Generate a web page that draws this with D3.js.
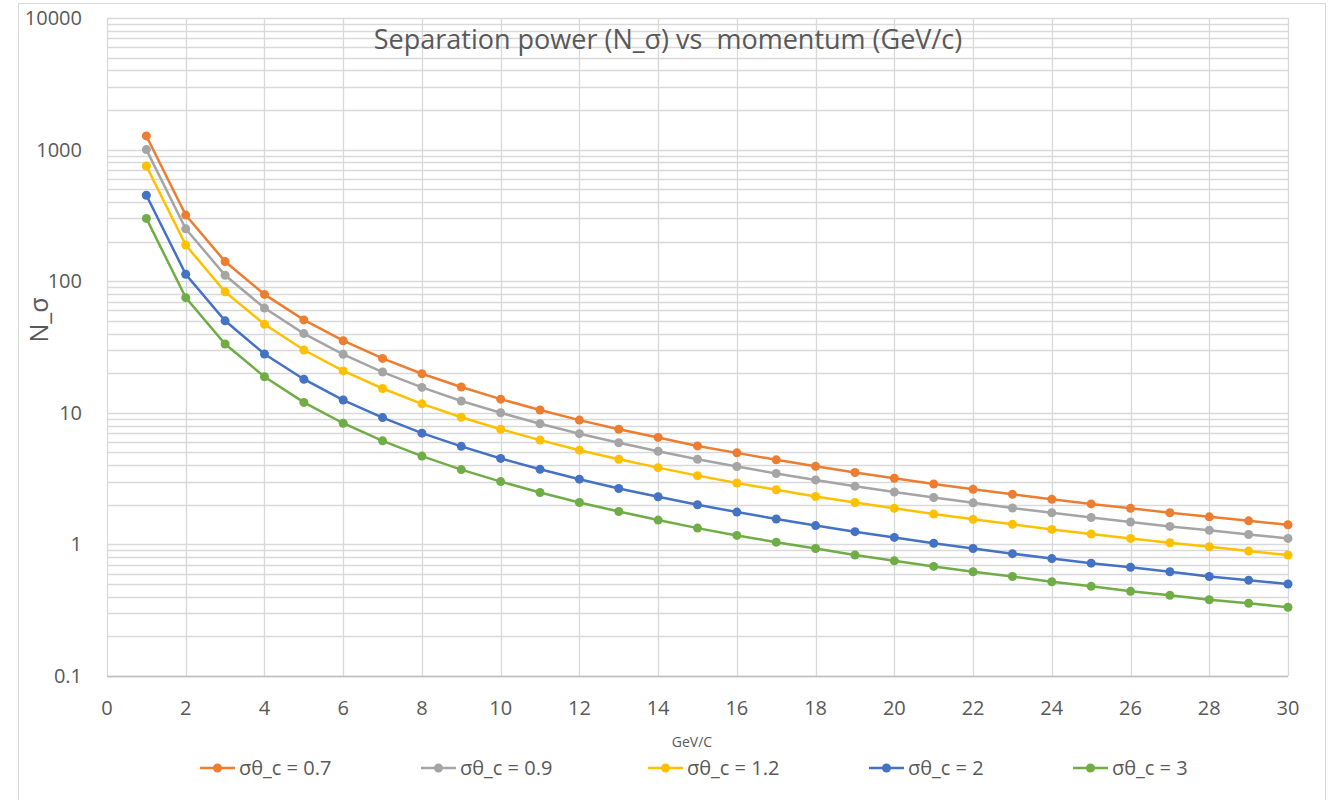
<!DOCTYPE html>
<html>
<head>
<meta charset="utf-8">
<script src="https://cdn.jsdelivr.net/npm/d3@7"></script>
<style>
  body { margin: 0; background: #fff; }
  text { font-family: "Open Sans", "Liberation Sans", sans-serif; fill: #595959; }
</style>
</head>
<body>
<div id="chart"></div>
<script>
// momentum (GeV/c)
const momentum = d3.range(1, 31);

// N_sigma for each sigma theta_c
const sigma07 = [1270, 318, 141, 79.4, 50.8, 35.3, 25.9, 19.8, 15.7, 12.7, 10.5, 8.8, 7.5, 6.5, 5.6, 4.96, 4.39, 3.92, 3.52, 3.18, 2.88, 2.62, 2.4, 2.2, 2.03, 1.88, 1.74, 1.62, 1.51, 1.41];
const sigma09 = [1000, 250, 111, 62.5, 40, 27.8, 20.4, 15.6, 12.3, 10, 8.26, 6.94, 5.92, 5.1, 4.44, 3.91, 3.46, 3.09, 2.77, 2.5, 2.27, 2.07, 1.89, 1.74, 1.6, 1.48, 1.37, 1.28, 1.19, 1.11];
const sigma12 = [750, 188, 83, 47, 30, 20.8, 15.3, 11.7, 9.26, 7.5, 6.2, 5.2, 4.44, 3.83, 3.33, 2.93, 2.6, 2.31, 2.08, 1.88, 1.7, 1.55, 1.42, 1.3, 1.2, 1.11, 1.03, 0.96, 0.89, 0.83];
const sigma2 = [450, 113, 50, 28, 18, 12.5, 9.2, 7.0, 5.56, 4.5, 3.72, 3.13, 2.66, 2.3, 2.0, 1.76, 1.56, 1.39, 1.25, 1.13, 1.02, 0.93, 0.85, 0.78, 0.72, 0.67, 0.62, 0.57, 0.535, 0.5];
const sigma3 = [300, 75, 33.3, 18.8, 12, 8.33, 6.12, 4.69, 3.7, 3.0, 2.48, 2.08, 1.78, 1.53, 1.33, 1.17, 1.04, 0.93, 0.83, 0.75, 0.68, 0.62, 0.57, 0.52, 0.48, 0.44, 0.41, 0.38, 0.357, 0.333];

const seriesNames = ["σθ_c = 0.7", "σθ_c = 0.9", "σθ_c = 1.2", "σθ_c = 2", "σθ_c = 3"];
const seriesColors = ["#ED7D31", "#A5A5A5", "#FFC000", "#4472C4", "#70AD47"];
const seriesValues = [sigma07, sigma09, sigma12, sigma2, sigma3];

const xTicks = d3.range(0, 31, 2);
const yTicks = [0.1, 1, 10, 100, 1000, 10000];

const width = 1330, height = 800;
const margin = { top: 18, right: 42, bottom: 124, left: 107 };

const svg = d3.select("#chart").append("svg")
  .attr("width", width)
  .attr("height", height);

// chart border
svg.append("rect")
  .attr("x", 18.5).attr("y", 3.5)
  .attr("width", 1307).attr("height", 800)
  .attr("fill", "none").attr("stroke", "#d9d9d9");

const x = d3.scaleLinear().domain([0, 30]).range([margin.left, width - margin.right]);
const y = d3.scaleLog().domain([0.1, 10000]).range([height - margin.bottom, margin.top]);

// horizontal grid, major + minor
const gridVals = [];
for (let e = -1; e < 4; e++) {
  for (let m = 1; m < 10; m++) gridVals.push(m * Math.pow(10, e));
}
gridVals.push(10000);

svg.append("g")
  .selectAll("line")
  .data(gridVals)
  .join("line")
  .attr("x1", x(0)).attr("x2", x(30))
  .attr("y1", d => Math.round(y(d)) + 0.5).attr("y2", d => Math.round(y(d)) + 0.5)
  .attr("stroke", "#d9d9d9").attr("stroke-width", 1.3);

// vertical grid
svg.append("g")
  .selectAll("line")
  .data(xTicks)
  .join("line")
  .attr("x1", d => Math.round(x(d)) + 0.5).attr("x2", d => Math.round(x(d)) + 0.5)
  .attr("y1", y(10000)).attr("y2", y(0.1))
  .attr("stroke", "#d9d9d9").attr("stroke-width", 1.3);

// x axis line
svg.append("line")
  .attr("x1", x(0)).attr("x2", x(30))
  .attr("y1", y(0.1) + 0.5).attr("y2", y(0.1) + 0.5)
  .attr("stroke", "#bfbfbf").attr("stroke-width", 1.5);

// tick labels
svg.append("g")
  .selectAll("text")
  .data(xTicks)
  .join("text")
  .attr("x", d => x(d))
  .attr("y", y(0.1) + 39)
  .attr("text-anchor", "middle")
  .style("font-size", "20px")
  .text(d => d);

svg.append("g")
  .selectAll("text")
  .data(yTicks)
  .join("text")
  .attr("x", 82)
  .attr("y", d => y(d) + 7)
  .attr("text-anchor", "end")
  .style("font-size", "20px")
  .text(d => d);

// title and axis titles
svg.append("text")
  .attr("x", 668).attr("y", 49)
  .attr("text-anchor", "middle")
  .style("font-size", "27px")
  .style("white-space", "pre")
  .text("Separation power (N_σ) vs  momentum (GeV/c)");

svg.append("text")
  .attr("x", 692).attr("y", 747)
  .attr("text-anchor", "middle")
  .style("font-size", "14px")
  .text("GeV/C");

svg.append("text")
  .attr("transform", "translate(48,320) rotate(-90)")
  .attr("text-anchor", "middle")
  .style("font-size", "25px")
  .text("N_σ");

// series
const line = d3.line()
  .x((d, i) => x(momentum[i]))
  .y(d => y(d));

const series = svg.append("g")
  .selectAll("g")
  .data(seriesValues)
  .join("g");

series.append("path")
  .attr("d", d => line(d))
  .attr("fill", "none")
  .attr("stroke", (d, i) => seriesColors[i])
  .attr("stroke-width", 2.5);

series.each(function (vals, i) {
  d3.select(this).selectAll("circle")
    .data(vals)
    .join("circle")
    .attr("cx", (d, j) => x(momentum[j]))
    .attr("cy", d => y(d))
    .attr("r", 4.5)
    .attr("fill", seriesColors[i]);
});

// legend
const legendX = [200, 421, 648, 869, 1073];
const legend = svg.append("g")
  .selectAll("g")
  .data(seriesNames)
  .join("g")
  .attr("transform", (d, i) => `translate(${legendX[i]},768)`);

legend.append("line")
  .attr("x1", 0).attr("x2", 35)
  .attr("stroke", (d, i) => seriesColors[i])
  .attr("stroke-width", 2.5);

legend.append("circle")
  .attr("cx", 17.5).attr("r", 4.5)
  .attr("fill", (d, i) => seriesColors[i]);

legend.append("text")
  .attr("x", 39).attr("y", 7)
  .style("font-size", "20px")
  .text(d => d);
</script>
</body>
</html>
